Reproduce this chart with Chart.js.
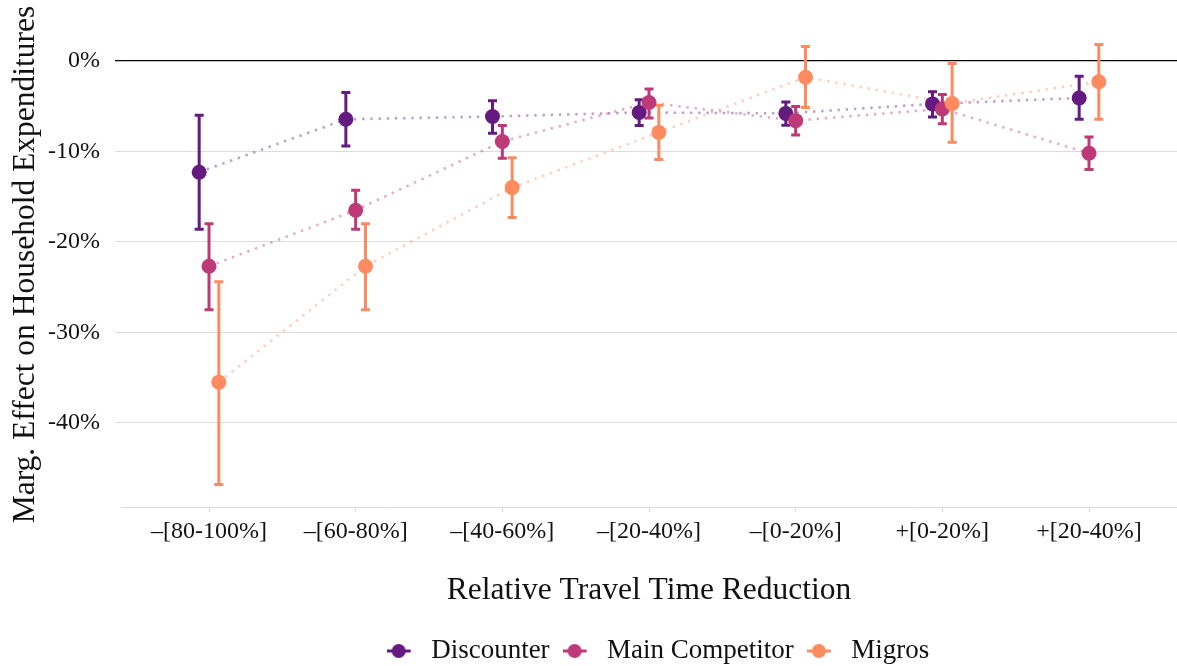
<!DOCTYPE html>
<html>
<head>
<meta charset="utf-8">
<script src="https://cdn.jsdelivr.net/npm/chart.js@4/dist/chart.umd.min.js"></script>
<style>
  html, body { margin: 0; padding: 0; background: #ffffff; }
  #c { display: block; }
</style>
</head>
<body>
<canvas id="c" width="1177" height="666"></canvas>
<script>
// Travel-time reduction bins (x categories)
const categories = ['–[80-100%]', '–[60-80%]', '–[40-60%]', '–[20-40%]', '–[0-20%]', '+[0-20%]', '+[20-40%]'];

// Y-axis breaks, in percent
const yTicks = [-40, -30, -20, -10, 0];

// Estimated marginal effects (%) with confidence bounds
const discounter   = [-12.3, -6.45, -6.15, -5.7, -5.8, -4.75, -4.1];
const discounterLo = [-18.6, -9.4, -8.0, -7.15, -7.1, -6.2, -6.45];
const discounterHi = [-6.0, -3.5, -4.4, -4.3, -4.55, -3.4, -1.7];

const mainComp   = [-22.7, -16.5, -8.9, -4.6, -6.6, -5.3, -10.2];
const mainCompLo = [-27.5, -18.6, -10.75, -6.3, -8.2, -6.95, -12.0];
const mainCompHi = [-18.0, -14.3, -7.15, -3.1, -5.05, -3.7, -8.4];

const migros   = [-35.5, -22.7, -14.0, -7.9, -1.8, -4.7, -2.3];
const migrosLo = [-46.8, -27.5, -17.3, -10.9, -5.15, -9.0, -6.45];
const migrosHi = [-24.4, -18.0, -10.7, -4.9, 1.6, -0.3, 1.8];

const seriesNames = ['Discounter', 'Main Competitor', 'Migros'];

// ---- styling ----
const FONT = "'Liberation Serif', 'Times New Roman', serif";
const colors = ['#651a80', '#bd3977', '#fe8a5f'];
const lineColors = ['rgba(101,26,128,0.42)', 'rgba(189,57,119,0.42)', 'rgba(254,138,95,0.42)'];
const dodge = [-0.067, 0, 0.067];

const series = [
  { name: seriesNames[0], y: discounter, lo: discounterLo, hi: discounterHi },
  { name: seriesNames[1], y: mainComp,   lo: mainCompLo,   hi: mainCompHi },
  { name: seriesNames[2], y: migros,     lo: migrosLo,     hi: migrosHi }
];

const toPoints = (s, k) => s.y.map((v, i) => ({ x: i + dodge[k], y: v, lo: s.lo[i], hi: s.hi[i] }));

const datasets = [];
// dotted connectors (drawn underneath)
series.forEach((s, k) => {
  datasets.push({
    type: 'line',
    label: s.name + ' line',
    role: 'line',
    data: toPoints(s, k),
    showLine: true,
    borderColor: lineColors[k],
    borderWidth: 2.6,
    borderDash: [2.4, 5.8],
    borderCapStyle: 'butt',
    pointRadius: 0,
    pointHoverRadius: 0,
    fill: false,
    order: 10
  });
});
// point markers
series.forEach((s, k) => {
  datasets.push({
    type: 'scatter',
    label: s.name,
    role: 'points',
    series: k,
    data: toPoints(s, k),
    backgroundColor: colors[k],
    borderColor: colors[k],
    borderWidth: 0,
    pointRadius: 7.5,
    pointHoverRadius: 7.5,
    order: 3 - k
  });
});

// legend key: short line with a dot on it
function legendIcon(color) {
  const c = document.createElement('canvas');
  c.width = 31; c.height = 20;
  const g = c.getContext('2d');
  g.strokeStyle = color; g.lineWidth = 3;
  g.beginPath(); g.moveTo(0, 10); g.lineTo(24, 10); g.stroke();
  g.fillStyle = color;
  g.beginPath(); g.arc(12, 10, 7, 0, Math.PI * 2); g.fill();
  return c;
}
const icons = colors.map(legendIcon);

// vertical error bars with caps, drawn just before the first marker layer
const errorBars = {
  id: 'errorBars',
  beforeDatasetDraw(chart, args) {
    const ds = chart.data.datasets[args.index];
    if (ds.role !== 'points' || ds.series !== 0) return;
    const { ctx, scales: { x, y } } = chart;
    ctx.save();
    ctx.lineCap = 'butt';
    chart.data.datasets.forEach(d => {
      if (d.role !== 'points') return;
      ctx.strokeStyle = colors[d.series];
      ctx.lineWidth = 3;
      d.data.forEach(p => {
        const px = x.getPixelForValue(p.x);
        const yl = y.getPixelForValue(p.lo);
        const yh = y.getPixelForValue(p.hi);
        ctx.beginPath();
        ctx.moveTo(px, yl); ctx.lineTo(px, yh);
        ctx.moveTo(px - 4.5, yl); ctx.lineTo(px + 4.5, yl);
        ctx.moveTo(px - 4.5, yh); ctx.lineTo(px + 4.5, yh);
        ctx.stroke();
      });
    });
    ctx.restore();
  }
};

// place the legend row under the panel
const legendPlacement = {
  id: 'legendPlacement',
  afterLayout(chart) {
    const lg = chart.legend;
    lg.left = 139;
    lg.top = 651 - 13 - 13.5;
  }
};

new Chart(document.getElementById('c'), {
  type: 'scatter',
  data: { datasets },
  plugins: [errorBars, legendPlacement],
  options: {
    responsive: false,
    animation: false,
    devicePixelRatio: 1,
    layout: { autoPadding: false, padding: { top: 22, right: 0, bottom: 0, left: 0 } },
    plugins: {
      tooltip: { enabled: false },
      legend: {
        position: 'bottom',
        align: 'center',
        labels: {
          usePointStyle: true,
          pointStyleWidth: 31,
          padding: 13,
          color: '#111111',
          font: { family: FONT, size: 27 },
          generateLabels(chart) {
            return chart.data.datasets
              .map((d, i) => ({ d, i }))
              .filter(o => o.d.role === 'points')
              .map(o => ({
                text: o.d.label,
                pointStyle: icons[o.d.series],
                fillStyle: colors[o.d.series],
                strokeStyle: colors[o.d.series],
                lineWidth: 0,
                hidden: false,
                fontColor: '#111111',
                datasetIndex: o.i
              }));
          }
        }
      }
    },
    scales: {
      x: {
        type: 'linear',
        min: -0.6,
        max: 6.6,
        afterBuildTicks(s) { s.ticks = categories.map((_, i) => ({ value: i })); },
        afterFit(s) { s.height = 109; s.paddingLeft = 0; s.paddingRight = 0; },
        ticks: {
          autoSkip: false,
          maxRotation: 0,
          padding: 5,
          color: '#111111',
          font: { family: FONT, size: 24 },
          callback: (v) => categories[v]
        },
        grid: { drawOnChartArea: false, drawTicks: true, tickLength: 5, color: '#dcdcdc', lineWidth: 1 },
        border: { display: true, color: '#dcdcdc', width: 1 },
        title: {
          display: true,
          text: 'Relative Travel Time Reduction',
          color: '#111111',
          font: { family: FONT, size: 31.5 },
          padding: { top: 0, bottom: 6 }
        }
      },
      y: {
        type: 'linear',
        min: -49.3,
        max: 4.3,
        afterBuildTicks(s) { s.ticks = yTicks.map(v => ({ value: v })); },
        afterFit(s) { s.width = 121; s.paddingTop = 0; s.paddingBottom = 0; },
        ticks: {
          padding: 15,
          color: '#111111',
          font: { family: FONT, size: 24 },
          callback: (v) => v + '%'
        },
        grid: {
          drawTicks: true,
          tickLength: 6,
          color: (c) => (c.tick && c.tick.value === 0 ? '#000000' : '#dcdcdc'),
          lineWidth: (c) => (c.tick && c.tick.value === 0 ? 1.3 : 1)
        },
        border: { display: false },
        title: {
          display: true,
          text: 'Marg. Effect on Household Expenditures',
          color: '#111111',
          font: { family: FONT, size: 31.5 },
          padding: { top: 7, bottom: 0 }
        }
      }
    }
  }
});
</script>
</body>
</html>
